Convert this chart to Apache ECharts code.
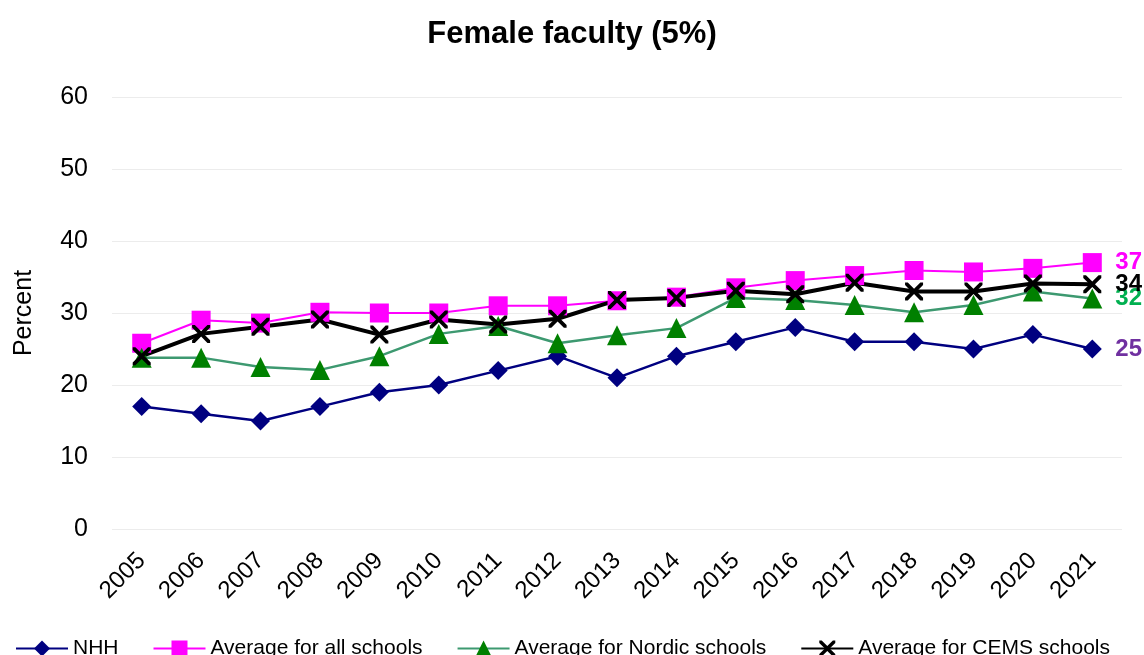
<!DOCTYPE html>
<html>
<head>
<meta charset="utf-8">
<script src="https://cdn.jsdelivr.net/npm/echarts@6/dist/echarts.min.js"></script>
<style>html,body{margin:0;padding:0;background:#fff}#c{width:1144px;height:655px}</style>
</head>
<body>
<div id="c"></div>
<script>
const years = ['2005','2006','2007','2008','2009','2010','2011','2012','2013','2014','2015','2016','2017','2018','2019','2020','2021'];
const nhh = [17,16,15,17,19,20,22,24,21,24,26,28,26,26,25,27,25];
const allSchools = [25.8,29,28.6,30.1,30,30,31,31,31.7,32.2,33.5,34.5,35.2,35.9,35.7,36.2,37];
const nordic = [23.8,23.8,22.5,22.1,24,27.1,28.2,25.8,26.9,27.9,32.1,31.8,31.1,30.1,31.1,33,32];
const cems = [24,27.1,28.1,29.1,27,29.1,28.4,29.2,31.8,32.1,33.1,32.6,34.2,33,33,34.1,34];
const seriesNames = ['NHH','Average for all schools','Average for Nordic schools','Average for CEMS schools'];
const yTicks = [0,10,20,30,40,50,60];

const xPath = 'path://M0,0 L3,0 L10,7 L17,0 L20,0 L20,3 L13,10 L20,17 L20,20 L17,20 L10,13 L3,20 L0,20 L0,17 L7,10 L0,3 Z';
const font = '"Liberation Sans", Arial, sans-serif';

function mk(name, data, lineColor, markColor, width, symbol, size, labelColor) {
  return {
    name, type: 'line', data,
    symbol, symbolSize: size,
    lineStyle: { color: lineColor, width },
    itemStyle: { color: markColor },
    animation: false,
    endLabel: {
      show: true,
      formatter: p => Math.round(p.value),
      color: labelColor, fontWeight: 'bold', fontSize: 24, fontFamily: font,
      distance: 23
    }
  };
}

const chart = echarts.init(document.getElementById('c'));
chart.setOption({
  backgroundColor: '#fff',
  animation: false,
  title: {
    text: 'Female faculty (5%)', left: 'center', top: 14,
    textStyle: { fontFamily: font, fontSize: 31, fontWeight: 'bold', color: '#000' }
  },
  grid: { left: 112, right: 22, top: 97, bottom: 126 },
  legend: {
    left: 15, top: 638, padding: 0, itemWidth: 52, itemHeight: 20, itemGap: 34,
    textStyle: { fontFamily: font, fontSize: 21, color: '#000' },
    data: seriesNames
  },
  xAxis: {
    type: 'category', data: years, boundaryGap: true,
    axisLine: { show: false }, axisTick: { show: false },
    axisLabel: { rotate: 45, fontFamily: font, fontSize: 24, color: '#000', margin: 28, interval: 0 }
  },
  yAxis: {
    type: 'value', min: yTicks[0], max: yTicks[yTicks.length-1], interval: 10,
    name: 'Percent', nameLocation: 'middle', nameGap: 75, nameRotate: 90,
    nameTextStyle: { fontFamily: font, fontSize: 25, color: '#000' },
    axisLine: { show: false }, axisTick: { show: false },
    axisLabel: { fontFamily: font, fontSize: 25, color: '#000', margin: 24 },
    splitLine: { lineStyle: { color: '#ececec', width: 1 } }
  },
  series: [
    mk(seriesNames[0], nhh, '#000080', '#000080', 2.5, 'diamond', 19, '#7030a0'),
    mk(seriesNames[1], allSchools, '#ff00ff', '#ff00ff', 2, 'rect', 19, '#ff00ff'),
    mk(seriesNames[2], nordic, '#3d9970', '#008000', 2.5, 'triangle', 20, '#00b050'),
    mk(seriesNames[3], cems, '#000000', '#000000', 4, xPath, 18, '#000000')
  ]
});
</script>
</body>
</html>
